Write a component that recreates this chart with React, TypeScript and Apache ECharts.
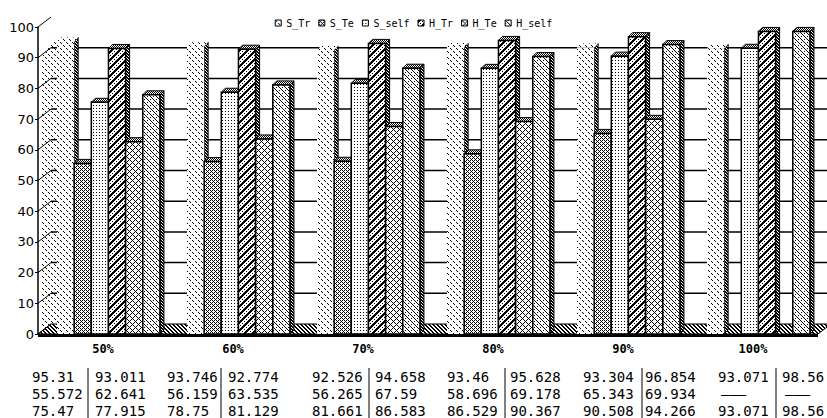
import React, { useEffect, useRef } from "react";
import * as echarts from "echarts";

// ---------- data ----------
const CATEGORIES = ["50%", "60%", "70%", "80%", "90%", "100%"];
const SERIES_NAMES = ["S_Tr", "S_Te", "S_self", "H_Tr", "H_Te", "H_self"];
const S_TR = [95.31, 93.746, 92.526, 93.46, 93.304, 93.071];
const S_TE: (number | null)[] = [55.572, 56.159, 56.265, 58.696, 65.343, null];
const S_SELF = [75.47, 78.75, 81.661, 86.529, 90.508, 93.071];
const H_TR = [93.011, 92.774, 94.658, 95.628, 96.854, 98.56];
const H_TE: (number | null)[] = [62.641, 63.535, 67.59, 69.178, 69.934, null];
const H_SELF = [77.915, 81.129, 86.583, 90.367, 94.266, 98.56];
const Y_TICKS = [0, 10, 20, 30, 40, 50, 60, 70, 80, 90, 100];

const SERIES_VALUES = [S_TR, S_TE, S_SELF, H_TR, H_TE, H_SELF];
// table rows: [S column, H column]
const TABLE_ROWS = [
  [S_TR, H_TR],
  [S_TE, H_TE],
  [S_SELF, H_SELF],
];

// ---------- layout ----------
const GRID = { left: 38, right: 9, top: 27, bottom: 84 };
const DX = 13;
const DY = 10;
const BAR_D = 4;
const SLOT_START = 0.146;
const SLOT_W = 0.132;
const TABLE_S_X = [32, 167, 312, 447, 583, 718];
const TABLE_LINE_X = [88, 221, 369, 505, 642, 776];
const TABLE_H_X = [95, 228, 375, 510, 645, 782];
const TABLE_ROW_Y = [377, 394, 411];
const TABLE_LINE_Y = [368, 418];

function makePattern(n: number, on: (x: number, y: number) => boolean) {
  const c = document.createElement("canvas");
  c.width = n;
  c.height = n;
  const ctx = c.getContext("2d")!;
  ctx.fillStyle = "#fff";
  ctx.fillRect(0, 0, n, n);
  ctx.fillStyle = "#000";
  for (let y = 0; y < n; y++)
    for (let x = 0; x < n; x++) if (on(x, y)) ctx.fillRect(x, y, 1, 1);
  return { image: c.toDataURL(), repeat: "repeat", imageWidth: n, imageHeight: n } as any;
}

export default function App() {
  const ref = useRef<HTMLDivElement>(null);
  useEffect(() => {
    if (!ref.current) return;
    const chart = echarts.init(ref.current, undefined, { renderer: "svg" });

    const pats = [
      makePattern(6, (x, y) => (x - y + 12) % 6 === 0 && y % 3 !== 2),
      makePattern(4, (x, y) => (x - y + 8) % 4 === 0 || ((x + y) % 4 === 2 && x % 2 === 0)),
      makePattern(6, (x, y) => x % 3 === 0 && y % 3 === 0),
      makePattern(8, (x, y) => (x + y) % 8 <= 2 || ((x + y) % 8 === 5 && x % 2 === 0)),
      makePattern(6, (x, y) => (x + y) % 6 === 0 || (x - y + 6) % 6 === 0),
      makePattern(6, (x, y) => (x - y + 6) % 6 === 0 || ((x + y) % 6 === 3 && x % 3 === 0)),
    ];
    const sidePat = makePattern(3, (x, y) => (x - y + 6) % 3 !== 0);
    const topPat = makePattern(2, (x, y) => (x + y) % 2 === 0);
    const floorPat = makePattern(4, (x, y) => (x - y + 8) % 4 < 2);

    const barRender = (s: number) => (params: any, api: any) => {
      const v = api.value(1);
      if (v == null || isNaN(v)) return null;
      const cat = api.value(0);
      const band = api.size([1, 0])[0];
      const base = api.coord([cat, 0]);
      const y0 = base[1];
      const yv = api.coord([cat, v])[1];
      const w = band * SLOT_W;
      const x0 = base[0] - band / 2 + band * SLOT_START + s * w;
      const d = BAR_D;
      const soft = s === 0;
      return {
        type: "group",
        children: [
          {
            type: "polygon",
            shape: { points: [[x0 + w, yv], [x0 + w + d, yv - d], [x0 + w + d, y0 - d], [x0 + w, y0]] },
            style: { fill: sidePat, stroke: "#000", lineWidth: 1 },
          },
          {
            type: "polygon",
            shape: { points: [[x0, yv], [x0 + d, yv - d], [x0 + w + d, yv - d], [x0 + w, yv]] },
            style: { fill: soft ? pats[0] : topPat, stroke: soft ? null : "#000", lineWidth: 1 },
          },
          {
            type: "rect",
            shape: { x: x0, y: yv, width: w, height: y0 - yv },
            style: { fill: pats[s], stroke: soft ? null : "#000", lineWidth: 1.5 },
          },
        ],
      };
    };

    const graphic: any[] = [];
    TABLE_ROWS.forEach((row, r) => {
      CATEGORIES.forEach((_, c) => {
        [0, 1].forEach((k) => {
          const v = row[k][c];
          const x = k === 0 ? TABLE_S_X[c] : TABLE_H_X[c];
          graphic.push({
            type: "text",
            x: v == null ? x + 3 : x,
            y: TABLE_ROW_Y[r],
            style: {
              text: v == null ? "———" : String(v),
              fontFamily: "DejaVu Sans Mono",
              fontSize: 14,
              fill: "#000",
              align: "left",
              verticalAlign: "middle",
              textAlign: "left",
              textVerticalAlign: "middle",
            },
          });
        });
      });
    });
    TABLE_LINE_X.forEach((x) => {
      graphic.push({
        type: "line",
        shape: { x1: x, y1: TABLE_LINE_Y[0], x2: x, y2: TABLE_LINE_Y[1] },
        style: { stroke: "#000", lineWidth: 1 },
      });
    });

    const option: any = {
      animation: false,
      backgroundColor: "#fff",
      grid: { ...GRID, containLabel: false, outerBoundsMode: "none" },
      legend: {
        data: SERIES_NAMES.map((n, i) => ({
          name: n,
          itemStyle: { color: pats[i], borderColor: "#000", borderWidth: 1 },
        })),
        top: 13,
        left: "center",
        icon: "rect",
        itemWidth: 6,
        itemHeight: 6,
        itemGap: 8,
        selectedMode: false,
        textStyle: { fontFamily: "DejaVu Sans Mono", fontSize: 10, color: "#000" },
      },
      xAxis: {
        type: "category",
        data: CATEGORIES,
        axisLine: { show: false },
        axisTick: { show: false },
        axisLabel: {
          fontFamily: "DejaVu Sans Mono",
          fontSize: 12,
          fontWeight: "bold",
          color: "#000",
          margin: 9,
        },
      },
      yAxis: {
        type: "value",
        min: 0,
        max: 100,
        interval: 10,
        axisLine: { show: true, lineStyle: { color: "#000", width: 1.5 } },
        axisTick: { show: true, length: 3, lineStyle: { color: "#000" } },
        splitLine: { show: false },
        axisLabel: { fontFamily: "DejaVu Sans", fontSize: 13, color: "#000", margin: 4 },
      },
      series: [
        {
          type: "custom",
          name: "floor",
          data: [[0, 0]],
          silent: true,
          renderItem: (params: any, api: any) => {
            const cs = params.coordSys;
            const y0 = api.coord([0, 0])[1];
            const yTop = api.coord([0, 90])[1];
            const yTop2 = api.coord([0, 97])[1];
            const band = api.size([1, 0])[0];
            const xl = cs.x;
            const xr = cs.x + cs.width;
            const xs = xl + band * SLOT_START;
            return {
              type: "group",
              children: [
                {
                  type: "polygon",
                  shape: { points: [[xl + 3, y0], [xl + 3, yTop], [xs, yTop2], [xs, y0]] },
                  style: { fill: pats[0] },
                },
                {
                  type: "polygon",
                  shape: { points: [[xl, y0], [xl + DX, y0 - DY], [xr + DX, y0 - DY], [xr, y0]] },
                  style: { fill: floorPat, stroke: "#000", lineWidth: 1 },
                },
                {
                  type: "rect",
                  shape: { x: xl, y: y0, width: xr - xl, height: 3 },
                  style: { fill: "#000" },
                },
              ],
            };
          },
        },
        {
          type: "custom",
          name: "wall",
          data: Y_TICKS.map((t) => [0, t]),
          silent: true,
          renderItem: (params: any, api: any) => {
            const cs = params.coordSys;
            const v = api.value(1);
            const y = api.coord([0, v])[1];
            const xl = cs.x;
            const xr = cs.x + cs.width;
            const children: any[] = [
              {
                type: "line",
                shape: { x1: xl, y1: y, x2: xl + DX, y2: y - DY },
                style: { stroke: "#000", lineWidth: 1 },
              },
            ];
            if (v > 0 && v < 100) {
              children.push({
                type: "line",
                shape: { x1: xl + DX, y1: y - DY, x2: xr + DX, y2: y - DY },
                style: { stroke: "#000", lineWidth: 1.5 },
              });
            }
            return { type: "group", children };
          },
        },
        ...SERIES_NAMES.map((name, s) => ({
          type: "custom",
          name,
          itemStyle: { color: pats[s] },
          data: SERIES_VALUES[s].map((v, i) => [i, v == null ? "-" : v]),
          renderItem: barRender(s),
        })),
      ],
      graphic,
    };
    chart.setOption(option);
    return () => chart.dispose();
  }, []);
  return (
    <div
      ref={ref}
      style={{ position: "fixed", left: 0, top: 0, width: 827, height: 418, background: "#fff" }}
    />
  );
}
